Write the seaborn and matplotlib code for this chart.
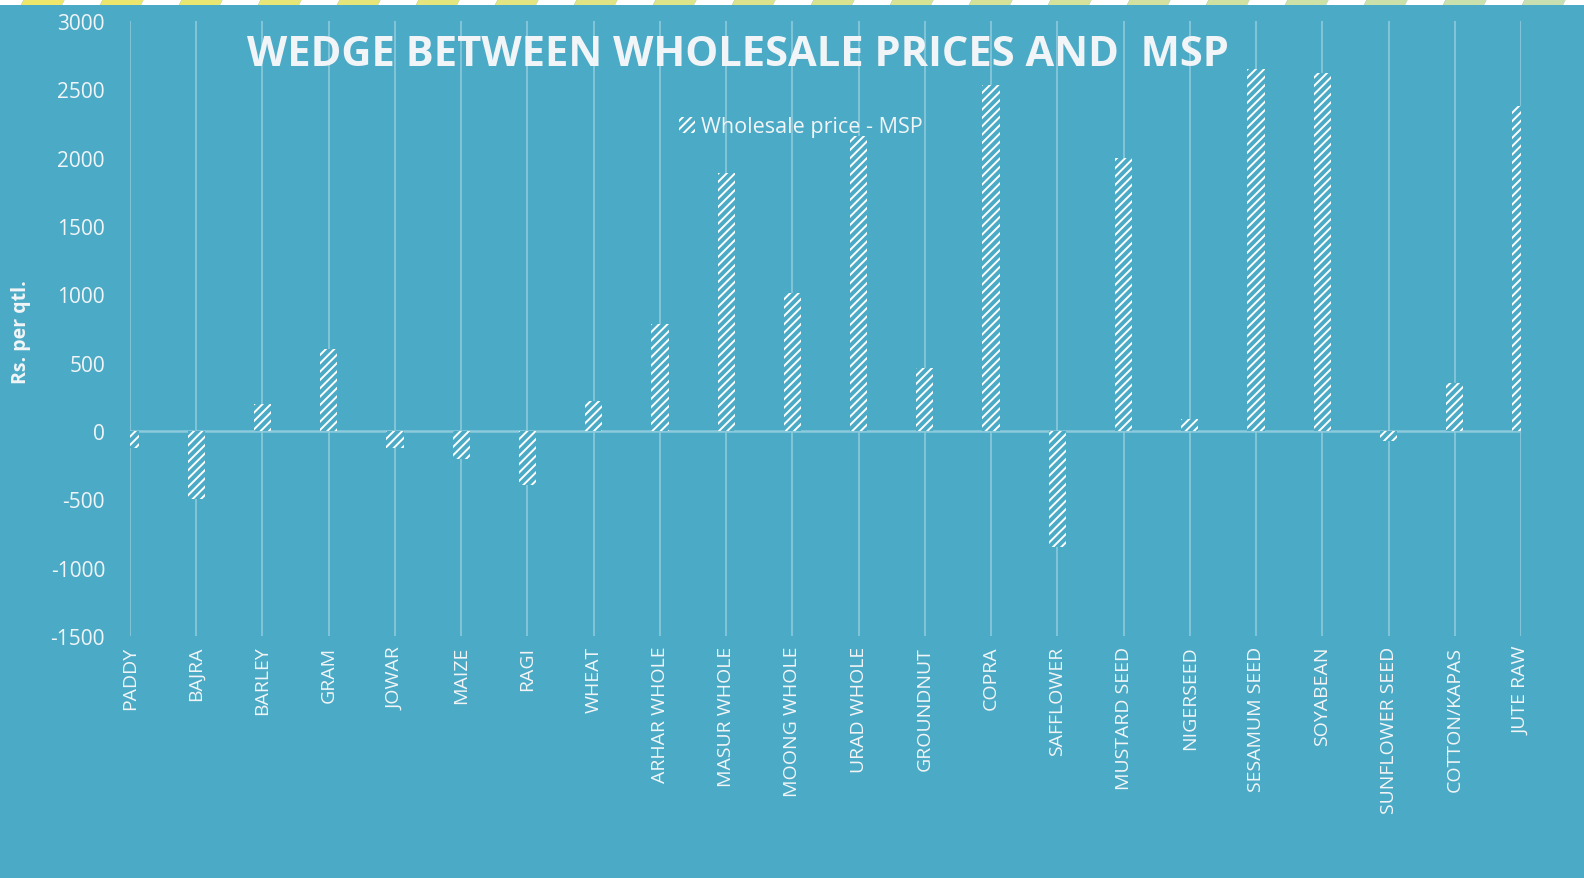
import matplotlib
matplotlib.use('Agg')
import matplotlib.pyplot as plt
from matplotlib.patches import Patch, Polygon
import matplotlib.colors as mcolors
import seaborn as sns
import pandas as pd
import numpy as np

# data
crops = ['PADDY', 'BAJRA', 'BARLEY', 'GRAM', 'JOWAR', 'MAIZE', 'RAGI', 'WHEAT',
         'ARHAR WHOLE', 'MASUR WHOLE', 'MOONG WHOLE', 'URAD WHOLE', 'GROUNDNUT',
         'COPRA', 'SAFFLOWER', 'MUSTARD SEED', 'NIGERSEED', 'SESAMUM SEED',
         'SOYABEAN', 'SUNFLOWER SEED', 'COTTON/KAPAS', 'JUTE RAW']
wedge = [-125, -495, 200, 600, -125, -205, -395, 220,
         780, 1890, 1010, 2160, 460,
         2530, -850, 2000, 90, 2650,
         2620, -75, 350, 2380]
y_ticks = [-1500, -1000, -500, 0, 500, 1000, 1500, 2000, 2500, 3000]

BG = '#4BABC6'
GRID = '#8DCADC'
TXT = '#F2F5F7'

sns.set_theme(style='white')
plt.rcParams['font.family'] = ['Open Sans', 'DejaVu Sans']
plt.rcParams['hatch.linewidth'] = 1.4

W, H = 1584, 879
fig = plt.figure(figsize=(W / 100, H / 100), dpi=100)
fig.patch.set_facecolor(BG)
ax = fig.add_axes([130 / W, 1 - 637 / H, (1521 - 130) / W, (637 - 22) / H])
ax.set_facecolor(BG)

df = pd.DataFrame({'crop': crops, 'wedge': wedge})
sns.barplot(data=df, x='crop', y='wedge', order=crops, width=0.26, color=BG,
            saturation=1, ax=ax, zorder=3)
for p in ax.patches:
    p.set_facecolor(BG)
    p.set_edgecolor('white')
    p.set_linewidth(0)
    p.set_hatch('////')

ax.set_xlim(0, len(crops) - 1)
ax.set_ylim(-1500, 3000)
ax.set_yticks(y_ticks)
ax.set_yticklabels([str(v) for v in y_ticks], fontsize=15, color=TXT)
ax.set_xticks(range(len(crops)))
ax.set_xticklabels(crops, rotation=90, fontsize=14, color=TXT, va='top', ha='center')
ax.tick_params(axis='both', length=0)
ax.tick_params(axis='x', pad=7)
ax.tick_params(axis='y', pad=18)
ax.set_xlabel('')
ax.set_ylabel('')
ax.set_axisbelow(True)
ax.grid(axis='x', color=GRID, linewidth=1.2)
ax.grid(axis='y', visible=False)
ax.axhline(0, color=GRID, linewidth=1.8, zorder=2)
for s in ax.spines.values():
    s.set_visible(False)

fig.text(21 / W, 1 - 332 / H, 'Rs. per qtl.', rotation=90, ha='center', va='center',
         fontsize=14, fontweight='bold', color=TXT)
fig.text(738 / W, 1 - 56 / H, 'WEDGE BETWEEN WHOLESALE PRICES AND  MSP',
         ha='center', va='center', fontsize=30, fontweight='bold', color=TXT)

handle = Patch(facecolor=BG, edgecolor='white', linewidth=0, hatch='////',
               label='Wholesale price - MSP')
fig.legend(handles=[handle], loc='center left', bbox_to_anchor=(668 / W, 1 - 128 / H),
           frameon=False, fontsize=15.5, labelcolor=TXT, handlelength=0.75,
           handleheight=0.75, handletextpad=0.3, borderpad=0)

# dashed stripe along the top edge
c0 = np.array(mcolors.to_rgb('#EFE76A'))
c1 = np.array(mcolors.to_rgb('#C6DFB4'))
x = -58
while x < W:
    t = min(max(x / W, 0), 1)
    col = c0 * (1 - t) + c1 * t
    fig.add_artist(Polygon([[x + 3, H], [x + 44, H], [x + 41, H - 6], [x, H - 6]],
                           closed=True, transform=None, facecolor=col, edgecolor='none'))
    fig.add_artist(Polygon([[x + 44, H], [x + 82, H], [x + 79, H - 6], [x + 41, H - 6]],
                           closed=True, transform=None, facecolor='white', edgecolor='none'))
    x += 79

fig.savefig('out.png', dpi=100, facecolor=BG)
